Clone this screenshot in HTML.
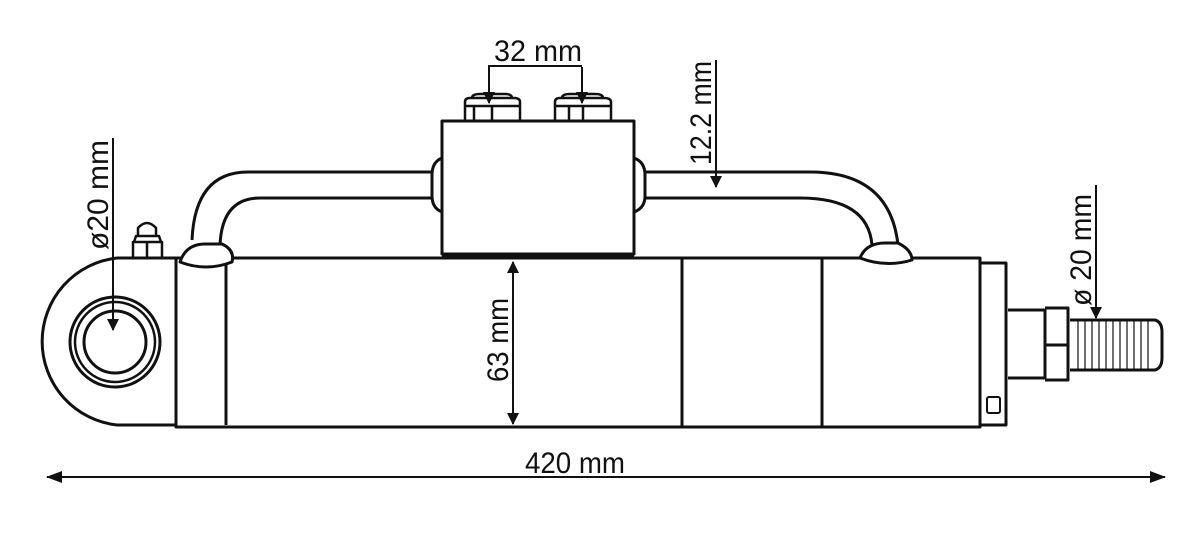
<!DOCTYPE html>
<html><head><meta charset="utf-8"><style>
html,body{margin:0;padding:0;background:#fff;}
svg{display:block;}
text{font-family:"Liberation Sans Narrow","Liberation Sans",sans-serif;fill:#111;}
</style></head><body>
<svg width="1200" height="539" viewBox="0 0 1200 539" xmlns="http://www.w3.org/2000/svg">
<defs>
<marker id="a" markerWidth="12" markerHeight="12" refX="11" refY="6" orient="auto" markerUnits="userSpaceOnUse" viewBox="0 0 12 12">
<path d="M0,0 L12,6 L0,12 z" fill="#111"/></marker>
<marker id="b" markerWidth="16" markerHeight="12" refX="15" refY="6" orient="auto" markerUnits="userSpaceOnUse" viewBox="0 0 16 12">
<path d="M0,0 L16,6 L0,12 z" fill="#111"/></marker>
</defs>
<g fill="none" stroke="#111" stroke-width="3" stroke-linejoin="round">
<path d="M176,258 L117,258 A84,84 0 0 0 117,425 L176,425"/>
<circle cx="115" cy="342" r="45"/>
<circle cx="115" cy="342" r="40" stroke-width="2.5"/>
<circle cx="115" cy="342" r="31"/>
<path d="M133,257 V242 H162 V257 M147,242 V257 M134,242 L136,236 H159 L161,242 M138,236 V228 Q147,218 156,228 V236" stroke-width="2.5"/>
<path d="M176,258 H682 V427 H176 Z"/>
<line x1="226" y1="262" x2="226" y2="425"/>
<path d="M682,258 H980 V427 H682"/>
<line x1="822" y1="258" x2="822" y2="427"/>
<path d="M980,263 H1006 V425 H980"/>
<rect x="987" y="397" width="13" height="16" rx="2" stroke-width="2"/>
<path d="M1008,310 H1045 V378 H1008"/>
<path d="M1045,308 H1068 V380 H1045 M1045,345 H1068"/>
<path d="M1070,320 H1155 Q1162,322 1162,332 V358 Q1162,368 1155,370 H1070"/>
<g stroke-width="1.2">
<line x1="1078" y1="320" x2="1078" y2="370"/><line x1="1085" y1="320" x2="1085" y2="370"/>
<line x1="1092" y1="320" x2="1092" y2="370"/><line x1="1099" y1="320" x2="1099" y2="370"/>
<line x1="1106" y1="320" x2="1106" y2="370"/><line x1="1113" y1="320" x2="1113" y2="370"/>
<line x1="1120" y1="320" x2="1120" y2="370"/><line x1="1127" y1="320" x2="1127" y2="370"/>
<line x1="1134" y1="320" x2="1134" y2="370"/><line x1="1141" y1="320" x2="1141" y2="370"/>
<line x1="1148" y1="320" x2="1148" y2="370"/>
</g>
<path d="M432,172 H248 Q195,172 192,240"/>
<path d="M432,198 H260 Q222,198 220,245"/>
<path d="M645,172 H810 Q890,172 898,245"/>
<path d="M645,198 H800 Q868,198 872,245"/>
<path d="M180,262 Q186,244 205,244 H222 Q235,250 232,262 Q206,272 180,262 Z" fill="#fff"/>
<path d="M860,258 Q866,243 885,243 H898 Q912,250 912,260 Q886,268 860,258 Z" fill="#fff"/>
<path d="M442,158 Q432,162 432,175 V196 Q432,208 442,212"/>
<path d="M634,158 Q645,162 645,175 V196 Q645,208 634,212"/>
<rect x="442" y="121" width="192" height="133" fill="#fff"/>
<line x1="442" y1="255" x2="634" y2="255" stroke-width="4"/>
<path d="M465,120 V102 Q465,98 470,98 H514 Q520,98 520,102 V120 M465,106 H520 M472,98 Q472,94 480,94 H505 Q512,94 512,98 M474,106 V120 M492,106 V120" stroke-width="2.5"/>
<path d="M555,120 V102 Q555,98 560,98 H604 Q611,98 611,102 V120 M555,106 H611 M562,98 Q562,94 570,94 H595 Q603,94 603,98 M569,106 V120 M583,106 V120" stroke-width="2.5"/>
</g>
<g stroke="#111" stroke-width="2" fill="none">
<path d="M488,66 H582"/>
<line x1="489" y1="67" x2="489" y2="103" marker-end="url(#a)"/>
<line x1="582" y1="67" x2="582" y2="103" marker-end="url(#a)"/>
<line x1="716" y1="60" x2="716" y2="187" marker-end="url(#a)"/>
<line x1="113" y1="138" x2="113" y2="330" marker-end="url(#a)"/>
<line x1="1096" y1="185" x2="1096" y2="318" marker-end="url(#a)"/>
<line x1="513" y1="300" x2="513" y2="262" marker-end="url(#a)"/>
<line x1="513" y1="300" x2="513" y2="424" marker-end="url(#a)"/>
<line x1="600" y1="477" x2="47" y2="477" marker-end="url(#b)"/>
<line x1="600" y1="477" x2="1165" y2="477" marker-end="url(#b)"/>
</g>
<g font-size="30">
<text x="494" y="61" textLength="88" lengthAdjust="spacingAndGlyphs">32 mm</text>
<text x="525" y="473" textLength="100" lengthAdjust="spacingAndGlyphs">420 mm</text>
<text transform="translate(711,165) rotate(-90)" textLength="104" lengthAdjust="spacingAndGlyphs">12.2 mm</text>
<text transform="translate(108,250) rotate(-90)" textLength="110" lengthAdjust="spacingAndGlyphs">ø20 mm</text>
<text transform="translate(1091,306) rotate(-90)" textLength="112" lengthAdjust="spacingAndGlyphs">ø 20 mm</text>
<text transform="translate(508,382) rotate(-90)" textLength="84" lengthAdjust="spacingAndGlyphs">63 mm</text>
</g>
</svg>
</body></html>
